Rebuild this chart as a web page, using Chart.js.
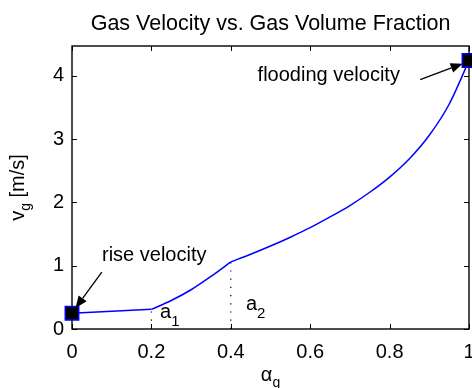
<!DOCTYPE html>
<html><head><meta charset="utf-8">
<script src="https://cdn.jsdelivr.net/npm/chart.js@4.4.1/dist/chart.umd.min.js"></script>
<style>html,body{margin:0;padding:0;background:#fff;overflow:hidden}canvas{display:block}</style>
</head><body>
<canvas id="c" width="472" height="388"></canvas>
<script>
// ---- data ----
const alphaLow = [0, 0.2];
const vLow = [0.25, 0.31];
const alphaMid = [0.2, 0.25, 0.3, 0.35, 0.4];
const vMid = [0.31, 0.45, 0.62, 0.83, 1.06];
const alphaHigh = [0.4, 0.45, 0.5, 0.55, 0.6, 0.65, 0.7, 0.75, 0.8, 0.85, 0.9, 0.95, 1.0];
const vHigh = [1.06, 1.18, 1.31, 1.45, 1.60, 1.77, 1.95, 2.16, 2.40, 2.69, 3.06, 3.55, 4.24];
const markerAlpha = [0, 1];
const markerV = [0.25, 4.24];
const a1Alpha = [0.2, 0.2];
const a1V = [0, 0.31];
const a2Alpha = [0.4, 0.4];
const a2V = [0, 1.06];
const xTicks = [0, 0.2, 0.4, 0.6, 0.8, 1];
const yTicks = [0, 1, 2, 3, 4];
const xRange = [0, 1];
const yRange = [0, 4.47];
const titleText = 'Gas Velocity vs. Gas Volume Fraction';

const pts = (xs, ys) => xs.map((x, i) => ({x: x, y: ys[i]}));
const FONT = '"Liberation Sans", Arial, Helvetica, sans-serif';
Chart.defaults.font.family = FONT;
Chart.defaults.color = '#000';

// annotation placement (data coordinates)
const notes = {
  riseText: {x: 0.0756, y: 1.16, text: 'rise velocity', align: 'left'},
  riseArrow: {from: [0.075, 0.90], to: [0.009, 0.33]},
  floodText: {x: 0.826, y: 4.0, text: 'flooding velocity', align: 'right'},
  floodArrow: {from: [0.877, 3.94], to: [0.984, 4.19]},
  a1: {x: 0.2217, y: 0.18, base: 'a', sub: '1'},
  a2: {x: 0.438, y: 0.305, base: 'a', sub: '2'}
};

function drawSub(ctx, x, y, base, sub, size, subSize, drop) {
  ctx.font = size + 'px ' + FONT;
  ctx.textAlign = 'left';
  ctx.textBaseline = 'alphabetic';
  ctx.fillText(base, x, y);
  const w = ctx.measureText(base).width;
  ctx.font = subSize + 'px ' + FONT;
  ctx.fillText(sub, x + w, y + drop);
}

function arrow(ctx, x1, y1, x2, y2) {
  const ang = Math.atan2(y2 - y1, x2 - x1);
  const L = 12, W = 5;
  const bx = x2 - L * Math.cos(ang), by = y2 - L * Math.sin(ang);
  ctx.strokeStyle = '#000';
  ctx.lineWidth = 1.3;
  ctx.beginPath(); ctx.moveTo(x1, y1); ctx.lineTo(bx, by); ctx.stroke();
  ctx.fillStyle = '#000';
  ctx.beginPath();
  ctx.moveTo(x2, y2);
  ctx.lineTo(bx + W * Math.sin(ang), by - W * Math.cos(ang));
  ctx.lineTo(bx - W * Math.sin(ang), by + W * Math.cos(ang));
  ctx.closePath(); ctx.fill();
}

const framePlugin = {
  id: 'frame',
  beforeDatasetsDraw(chart) {
    const {ctx, chartArea: a, scales: {x, y}} = chart;
    ctx.save();
    ctx.strokeStyle = '#000';
    ctx.lineWidth = 1.4;
    ctx.strokeRect(a.left, a.top, a.right - a.left, a.bottom - a.top);
    ctx.lineWidth = 1;
    const tl = 5;
    ctx.beginPath();
    xTicks.forEach(v => {
      const px = Math.round(x.getPixelForValue(v)) + 0.5;
      ctx.moveTo(px, a.bottom); ctx.lineTo(px, a.bottom - tl);
      ctx.moveTo(px, a.top); ctx.lineTo(px, a.top + tl);
    });
    yTicks.forEach(v => {
      const py = Math.round(y.getPixelForValue(v)) + 0.5;
      ctx.moveTo(a.left, py); ctx.lineTo(a.left + tl, py);
      ctx.moveTo(a.right, py); ctx.lineTo(a.right - tl, py);
    });
    ctx.stroke();
    ctx.restore();
  },
  afterDatasetsDraw(chart) {
    const {ctx, chartArea: a, scales: {x, y}} = chart;
    ctx.save();
    ctx.fillStyle = '#000';
    // title
    ctx.font = '21.5px ' + FONT;
    ctx.textAlign = 'center';
    ctx.textBaseline = 'alphabetic';
    ctx.fillText(titleText, (a.left + a.right) / 2, 30);
    // x axis title
    ctx.font = '20px ' + FONT;
    const wa = ctx.measureText('\u03b1').width;
    ctx.font = '14px ' + FONT;
    const wg = ctx.measureText('g').width;
    drawSub(ctx, (a.left + a.right) / 2 - (wa + wg) / 2, 381, '\u03b1', 'g', 20, 14, 6);
    // y axis title
    ctx.save();
    ctx.translate(24, (a.top + a.bottom) / 2);
    ctx.rotate(-Math.PI / 2);
    ctx.font = '20px ' + FONT;
    const wv = ctx.measureText('v').width;
    const wr = ctx.measureText(' [m/s]').width;
    ctx.font = '14px ' + FONT;
    const wsub = ctx.measureText('g').width;
    const start = -(wv + wsub + wr) / 2;
    drawSub(ctx, start, 0, 'v', 'g', 20, 14, 6);
    ctx.font = '20px ' + FONT;
    ctx.fillText(' [m/s]', start + wv + wsub, 0);
    ctx.restore();
    // annotations
    ctx.font = '20px ' + FONT;
    ctx.textBaseline = 'middle';
    [notes.riseText, notes.floodText].forEach(n => {
      ctx.textAlign = n.align;
      ctx.fillText(n.text, x.getPixelForValue(n.x), y.getPixelForValue(n.y));
    });
    [notes.riseArrow, notes.floodArrow].forEach(n => {
      arrow(ctx, x.getPixelForValue(n.from[0]), y.getPixelForValue(n.from[1]),
                 x.getPixelForValue(n.to[0]), y.getPixelForValue(n.to[1]));
    });
    [notes.a1, notes.a2].forEach(n => {
      drawSub(ctx, x.getPixelForValue(n.x), y.getPixelForValue(n.y), n.base, n.sub, 20, 15, 8);
    });
    ctx.restore();
  }
};

const blue = '#0000ff';
const lineDs = (data, extra) => Object.assign({
  data: data, borderColor: blue, borderWidth: 1.5, pointRadius: 0, fill: false, tension: 0
}, extra || {});

new Chart(document.getElementById('c'), {
  type: 'line',
  data: {
    datasets: [
      {data: pts(markerAlpha, markerV), showLine: false, pointStyle: 'rect', pointRadius: 9.5,
       backgroundColor: '#000', borderColor: blue, borderWidth: 1.5, clip: false},
      lineDs(pts(alphaLow, vLow)),
      lineDs(pts(alphaMid, vMid), {cubicInterpolationMode: 'monotone'}),
      lineDs(pts(alphaHigh, vHigh), {cubicInterpolationMode: 'monotone'}),
      lineDs(pts(a1Alpha, a1V), {borderColor: '#000', borderWidth: 1.2, borderDash: [1.2, 7]}),
      lineDs(pts(a2Alpha, a2V), {borderColor: '#000', borderWidth: 1.2, borderDash: [1.2, 7]})
    ]
  },
  options: {
    responsive: false,
    animation: false,
    events: [],
    layout: {autoPadding: false, padding: {top: 46, right: 3, left: 0, bottom: 0}},
    plugins: {legend: {display: false}, tooltip: {enabled: false}, title: {display: false}},
    scales: {
      x: {
        type: 'linear', min: xRange[0], max: xRange[1],
        afterBuildTicks: s => { s.ticks = xTicks.map(v => ({value: v})); },
        afterFit: s => { s.height = 59; s.paddingLeft = 0; s.paddingRight = 0; },
        grid: {display: false, drawTicks: false},
        border: {display: false},
        ticks: {color: '#000', font: {size: 20}, padding: 11, maxRotation: 0, autoSkip: false,
                callback: v => String(v)}
      },
      y: {
        type: 'linear', min: yRange[0], max: yRange[1],
        afterBuildTicks: s => { s.ticks = yTicks.map(v => ({value: v})); },
        afterFit: s => { s.width = 72; s.paddingTop = 0; s.paddingBottom = 0; },
        grid: {display: false, drawTicks: false},
        border: {display: false},
        ticks: {color: '#000', font: {size: 20}, padding: 8, autoSkip: false,
                callback: v => String(v)}
      }
    }
  },
  plugins: [framePlugin]
});
</script>
</body></html>
